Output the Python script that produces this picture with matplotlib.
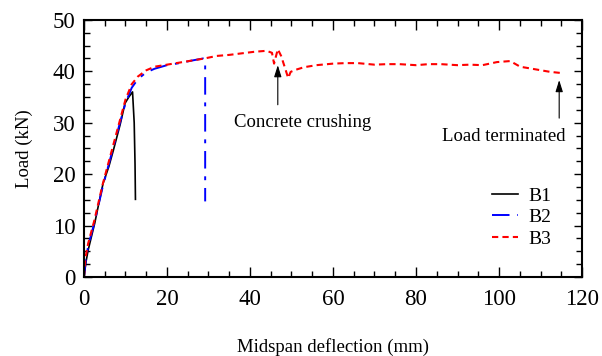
import matplotlib
matplotlib.use("Agg")
import matplotlib.pyplot as plt
from matplotlib.ticker import MultipleLocator

plt.rcParams["font.family"] = ["Liberation Serif", "DejaVu Serif"]

# load-deflection curves
b1_x = [0, 0.5, 1.0, 2.6, 3.5, 4.6, 6.0, 7.1, 8.7, 9.9, 10.8, 11.7, 12.1, 12.3, 12.4]
b1_y = [0, 3.0, 5.2, 10.5, 14.0, 18.2, 21.5, 24.7, 29.6, 33.8, 35.0, 36.0, 30.0, 22.0, 15.1]

b2_x = [0, 0.4, 1.0, 2.5, 4.5, 6.5, 8.5, 10.0, 11.5, 13.0, 15.0, 17.0, 20.0, 23.0,
        26.0, 28.7, 29.2, 29.2]
b2_y = [0, 3.0, 6.0, 10.5, 17.5, 23.5, 29.5, 33.8, 36.8, 38.5, 39.8, 40.5, 41.2, 41.6,
        42.1, 42.5, 42.3, 14.7]

b3_x = [0, 0.3, 1.0, 2.5, 4.5, 6.5, 8.5, 10.0, 11.5, 13.0, 15.0, 17.0, 20.0, 23.0,
        26.0, 29.0, 32.0, 35.0, 38.0, 41.0, 44.0, 45.3, 45.8, 46.7, 47.5, 48.5, 49.2,
        49.8, 51.0, 53.0, 56.0, 60.0, 63.0, 66.0, 70.0, 73.0, 76.0, 80.0, 83.0, 86.0,
        90.0, 93.0, 96.0, 99.5, 102.7, 105.1, 108.0, 112.3, 114.7]
b3_y = [0, 3.5, 6.5, 11.0, 18.0, 24.0, 30.0, 34.5, 37.5, 39.0, 40.2, 40.9, 41.3, 41.7,
        42.1, 42.5, 43.0, 43.2, 43.5, 43.8, 44.0, 43.6, 41.5, 44.3, 43.0, 40.5, 38.7,
        39.9, 40.3, 40.8, 41.2, 41.5, 41.6, 41.6, 41.3, 41.4, 41.4, 41.2, 41.4, 41.4,
        41.2, 41.3, 41.2, 41.8, 42.0, 40.9, 40.5, 39.9, 39.7]

fig = plt.figure(figsize=(6.02, 3.56), dpi=100)
ax = fig.add_axes([0.1395, 0.222, 0.8273, 0.722])

ax.plot(b1_x, b1_y, color="black", lw=1.2, label="B1")
ax.plot(b2_x, b2_y, color="blue", lw=1.4, dashes=(9, 4, 2, 4), label="B2")
ax.plot(b3_x, b3_y, color="red", lw=1.5, dashes=(3, 2), label="B3")

arrow = dict(arrowstyle="-|>,head_length=0.7,head_width=0.22", color="black",
             lw=0.8, shrinkA=0, shrinkB=0)
ax.annotate("", xy=(46.7, 41.2), xytext=(46.7, 33.5), arrowprops=arrow)
ax.annotate("", xy=(114.5, 38.3), xytext=(114.5, 30.9), arrowprops=arrow)
ax.text(52.8, 30.0, "Concrete crushing", ha="center", va="center", fontsize=13.5)
ax.text(101.2, 27.4, "Load terminated", ha="center", va="center", fontsize=13.5)

ax.set_xlim(0, 120)
ax.set_ylim(0, 50)
ax.xaxis.set_major_locator(MultipleLocator(20))
ax.xaxis.set_minor_locator(MultipleLocator(5))
ax.yaxis.set_major_locator(MultipleLocator(10))
ax.yaxis.set_minor_locator(MultipleLocator(2.5))
ax.tick_params(which="both", direction="in", top=True, right=True, labelsize=16.5)
ax.tick_params(axis="x", which="major", length=7, width=1, pad=9)
ax.tick_params(axis="y", which="major", length=6, width=1, pad=6)
ax.tick_params(which="minor", length=4, width=1)
for s in ax.spines.values():
    s.set_linewidth(1.5)

ax.set_xlabel("Midspan deflection (mm)", fontsize=13.5, labelpad=20)
ax.set_ylabel("Load (kN)", fontsize=13.5, labelpad=14)

ax.legend(loc="upper right", bbox_to_anchor=(0.955, 0.38), frameon=False,
          fontsize=14, handlelength=1.35, handletextpad=0.55, labelspacing=0.2,
          borderaxespad=0)

fig.savefig("out.png", dpi=100)
